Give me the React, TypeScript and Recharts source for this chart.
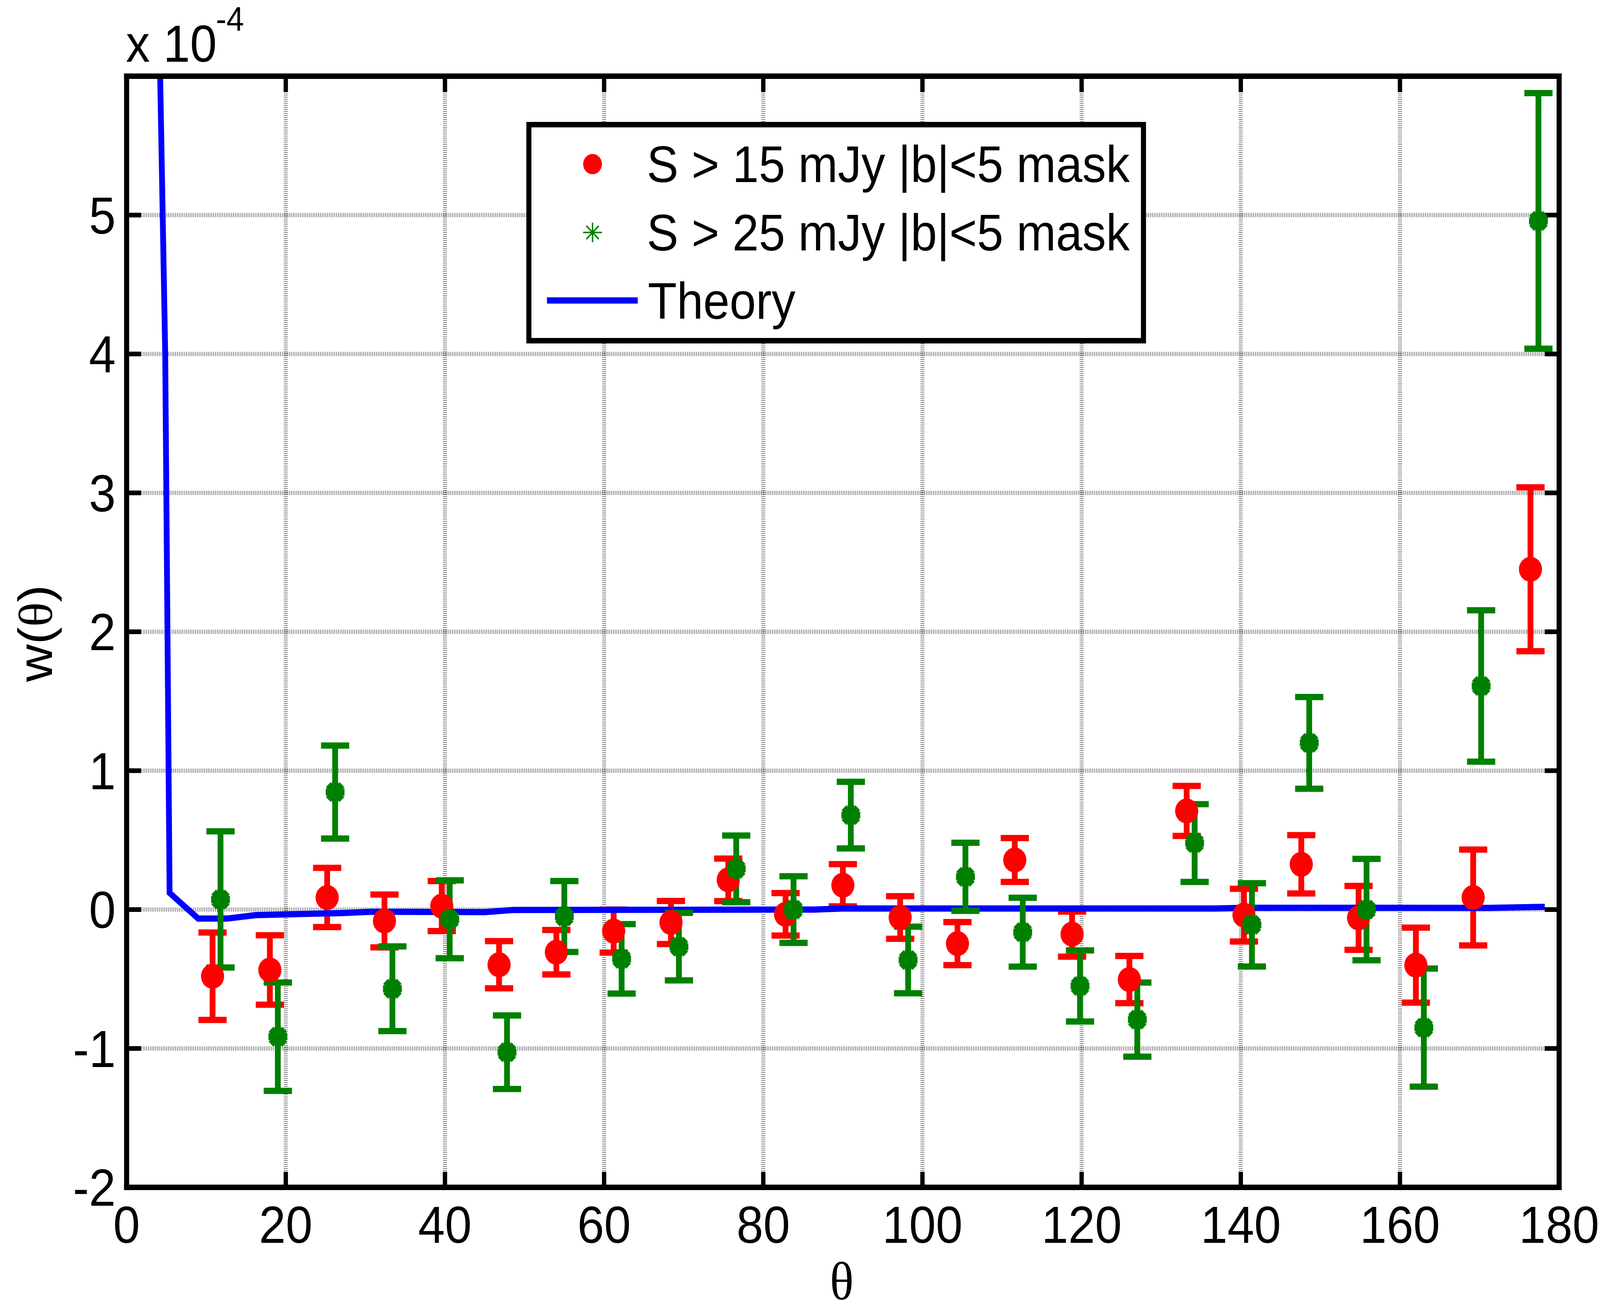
import React from 'react';
import {
  ComposedChart,
  XAxis,
  YAxis,
  CartesianGrid,
  Scatter,
  Line,
  ErrorBar,
  Legend,
  Customized,
} from 'recharts';

// ---- data (w(theta) in units of 1e-4) ----
const redTheta = [10.8, 18.0, 25.2, 32.4, 39.6, 46.8, 54.0, 61.2, 68.4, 75.6, 82.8, 90.0, 97.2, 104.4, 111.6, 118.8, 126.0, 133.2, 140.4, 147.6, 154.8, 162.0, 169.2, 176.4];
const redW = [-0.48, -0.435, 0.087, -0.082, 0.025, -0.397, -0.307, -0.155, -0.093, 0.214, -0.034, 0.175, -0.057, -0.245, 0.357, -0.177, -0.504, 0.71, -0.04, 0.326, -0.06, -0.4, 0.087, 2.45];
const redErr = [0.315, 0.25, 0.213, 0.19, 0.18, 0.17, 0.16, 0.155, 0.155, 0.153, 0.153, 0.152, 0.153, 0.155, 0.158, 0.162, 0.17, 0.18, 0.19, 0.21, 0.23, 0.27, 0.345, 0.59];

const greenTheta = [11.8, 19.0, 26.2, 33.4, 40.6, 47.8, 55.0, 62.2, 69.4, 76.6, 83.8, 91.0, 98.2, 105.4, 112.6, 119.8, 127.0, 134.2, 141.4, 148.6, 155.8, 163.0, 170.2, 177.4];
const greenW = [0.073, -0.915, 0.846, -0.57, -0.07, -1.027, -0.05, -0.355, -0.267, 0.293, 0.0, 0.68, -0.363, 0.236, -0.163, -0.55, -0.792, 0.479, -0.11, 1.2, 0.0, -0.85, 1.61, 4.958];
const greenErr = [0.49, 0.39, 0.335, 0.305, 0.28, 0.265, 0.255, 0.25, 0.243, 0.24, 0.24, 0.24, 0.24, 0.245, 0.248, 0.256, 0.267, 0.28, 0.3, 0.33, 0.365, 0.425, 0.545, 0.92];

const theoryTheta = [3.9, 4.85, 5.4, 9.0, 12.6, 16.2, 27.0, 30.6, 45.0, 48.6, 86.4, 90.0, 136.8, 140.4, 171.0, 178.2];
const theoryW = [7.0, 4.0, 0.12, -0.065, -0.065, -0.04, -0.025, -0.016, -0.018, -0.003, 0.0, 0.008, 0.008, 0.013, 0.012, 0.02];

const xTicks = [0, 20, 40, 60, 80, 100, 120, 140, 160, 180];
const yTicks = [-2, -1, 0, 1, 2, 3, 4, 5];

const legendLabels = ['S > 15 mJy |b|<5 mask', 'S > 25 mJy |b|<5 mask', 'Theory'];

const redData = redTheta.map((x, i) => ({ x, y: redW[i], e: redErr[i] }));
const greenData = greenTheta.map((x, i) => ({ x, y: greenW[i], e: greenErr[i] }));
const theoryData = theoryTheta.map((x, i) => ({ x, y: theoryW[i] }));

// ---- styles ----
const W = 4423;
const H = 3358;
const VIEW_W = 4096; // the browser viewport is capped at 4096 px wide
const SX = VIEW_W / W;
const SANS = '"Liberation Sans", Arial, Helvetica, sans-serif';
const SERIF = '"Liberation Serif", "Times New Roman", serif';
const RED = '#ff0000';
const GREEN = '#008000';
const BLUE = '#0000ff';

const axisLine = { stroke: '#000', strokeWidth: 14, strokeLinecap: 'square' as const };
const tickLine = { stroke: '#000', strokeWidth: 12 };
const tickStyle = { fill: '#000', fontSize: 133, fontFamily: SANS };

const RedDot = (props: any) => {
  const { cx, cy } = props;
  if (cx == null || cy == null) return null;
  return <circle cx={cx} cy={cy} r={32} fill={RED} />;
};

const GreenStar = (props: any) => {
  const { cx, cy } = props;
  if (cx == null || cy == null) return null;
  const a = 26;
  const d = 19;
  return (
    <g stroke={GREEN} strokeWidth={18}>
      <line x1={cx - a} y1={cy} x2={cx + a} y2={cy} />
      <line x1={cx} y1={cy - a} x2={cx} y2={cy + a} />
      <line x1={cx - d} y1={cy - d} x2={cx + d} y2={cy + d} />
      <line x1={cx - d} y1={cy + d} x2={cx + d} y2={cy - d} />
    </g>
  );
};

const LegendBox = () => {
  const w = 1713;
  const h = 567;
  return (
    <svg width={w} height={h} style={{ display: 'block' }}>
      <rect x={7} y={7} width={w - 14} height={h - 14} fill="#fff" stroke="#000" strokeWidth={14} />
      <circle cx={183} cy={108} r={26} fill={RED} />
      <text x={333} y={154} fontSize={131} fontFamily={SANS} fill="#000">{legendLabels[0]}</text>
      <g stroke={GREEN} strokeWidth={4}>
        <line x1={157} y1={283} x2={209} y2={283} />
        <line x1={183} y1={258} x2={183} y2={308} />
        <line x1={166} y1={266} x2={200} y2={300} />
        <line x1={166} y1={300} x2={200} y2={266} />
      </g>
      <text x={333} y={329} fontSize={131} fontFamily={SANS} fill="#000">{legendLabels[1]}</text>
      <line x1={57} y1={457} x2={308} y2={457} stroke={BLUE} strokeWidth={16} />
      <text x={336} y={504} fontSize={131} fontFamily={SANS} fill="#000">{legendLabels[2]}</text>
    </svg>
  );
};

const Labels = () => (
  <g>
    <text x={348} y={158} fontSize={133} fontFamily={SANS} fill="#000">x 10</text>
    <text x={597} y={79} fontSize={87} fontFamily={SANS} fill="#000">-4</text>
    <text x={2327} y={3326} fontSize={138} fontFamily={SERIF} textAnchor="middle" fill="#000">θ</text>
    <text transform="translate(144,1621) rotate(-90)" fontSize={133} fontFamily={SANS} textAnchor="middle" fill="#000">
      w(<tspan fontFamily={SERIF}>θ</tspan>)
    </text>
  </g>
);

export default function App() {
  return (
    <div style={{ position: 'absolute', left: 0, top: 0, width: VIEW_W, height: H, overflow: 'hidden', background: '#fff' }}>
      <div style={{ width: W, height: H, transform: `scale(${SX}, 1)`, transformOrigin: '0 0' }}>
        <ComposedChart width={W} height={H} margin={{ top: 0, right: 0, bottom: 0, left: 0 }}>
          <XAxis
            xAxisId="b"
            dataKey="x"
            type="number"
            orientation="bottom"
            domain={[0, 180]}
            ticks={xTicks}
            interval={0}
            height={319}
            allowDataOverflow
            axisLine={axisLine}
            tickLine={tickLine}
            tickSize={-40}
            tickMargin={88}
            tick={tickStyle}
          />
          <XAxis
            xAxisId="t"
            dataKey="x"
            type="number"
            orientation="top"
            domain={[0, 180]}
            ticks={xTicks}
            interval={0}
            height={195}
            allowDataOverflow
            axisLine={axisLine}
            tickLine={tickLine}
            tickSize={-40}
            tickFormatter={() => ''}
          />
          <YAxis
            yAxisId="l"
            dataKey="y"
            type="number"
            orientation="left"
            domain={[-2, 6]}
            ticks={yTicks}
            interval={0}
            width={350}
            allowDataOverflow
            axisLine={axisLine}
            tickLine={tickLine}
            tickSize={-40}
            tickMargin={70}
            tick={tickStyle}
          />
          <YAxis
            yAxisId="r"
            dataKey="y"
            type="number"
            orientation="right"
            domain={[-2, 6]}
            ticks={yTicks}
            interval={0}
            width={113}
            allowDataOverflow
            axisLine={axisLine}
            tickLine={tickLine}
            tickSize={-40}
            tickFormatter={() => ''}
          />
          <CartesianGrid
            xAxisId="b"
            yAxisId="l"
            stroke="#000"
            strokeWidth={11}
            strokeDasharray="1 4"
            horizontalValues={yTicks}
            verticalValues={xTicks}
          />
          <Scatter xAxisId="b" yAxisId="l" data={redData} dataKey="y" shape={RedDot} isAnimationActive={false}>
            <ErrorBar dataKey="e" direction="y" width={39} strokeWidth={16} stroke={RED} isAnimationActive={false} />
          </Scatter>
          <Line
            xAxisId="b"
            yAxisId="l"
            data={theoryData}
            dataKey="y"
            type="linear"
            stroke={BLUE}
            strokeWidth={16}
            dot={false}
            activeDot={false}
            isAnimationActive={false}
          />
          <Scatter xAxisId="b" yAxisId="l" data={greenData} dataKey="y" shape={GreenStar} isAnimationActive={false}>
            <ErrorBar dataKey="e" direction="y" width={39} strokeWidth={16} stroke={GREEN} isAnimationActive={false} />
          </Scatter>
          <Legend
            layout="horizontal"
            verticalAlign="middle"
            align="center"
            content={() => <LegendBox />}
            wrapperStyle={{ position: 'absolute', left: 1455, top: 312, width: 1713, height: 567 }}
          />
          <Customized component={Labels} />
        </ComposedChart>
      </div>
    </div>
  );
}
